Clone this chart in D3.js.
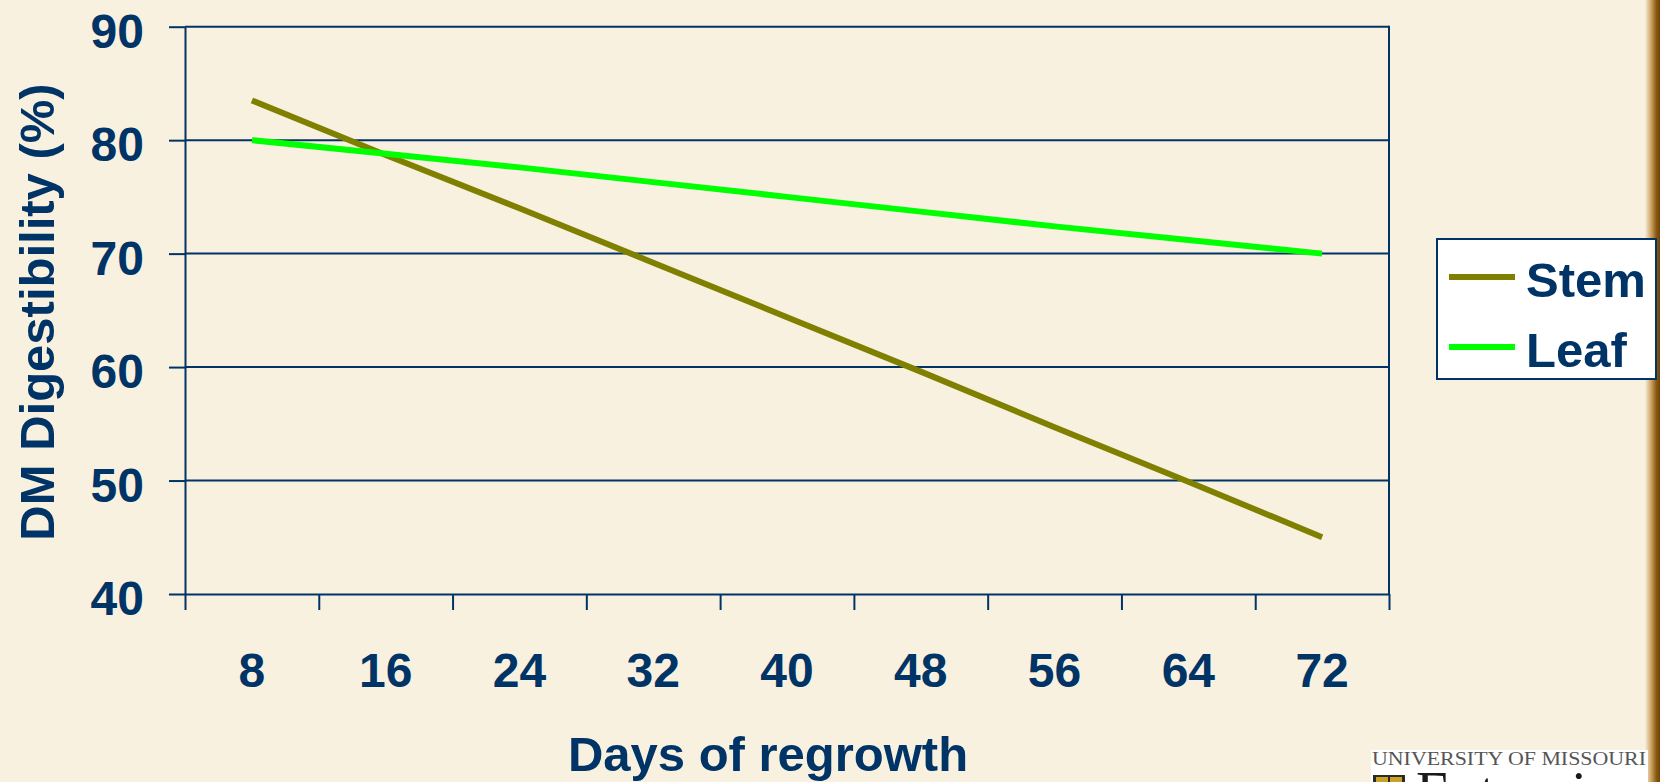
<!DOCTYPE html>
<html>
<head>
<meta charset="utf-8">
<script src="https://cdn.jsdelivr.net/npm/d3@7"></script>
<style>
  html, body { margin: 0; padding: 0; background: #F8F1DF; }
  svg { display: block; }
  text.chart-text { font-family: "Liberation Sans", Arial, sans-serif; font-weight: bold; }
  text.logo-text { font-family: "Liberation Serif", "Times New Roman", serif; font-weight: normal; }
</style>
</head>
<body>
<svg id="chart" width="1660" height="782"></svg>
<script>
// Days of regrowth (categories)
const days = ["8", "16", "24", "32", "40", "48", "56", "64", "72"];
// DM digestibility (%) by plant part
const stem = [83.5, 78.7, 74.0, 69.2, 64.4, 59.6, 54.7, 49.9, 45.0];
const leaf = [80.0, 78.8, 77.6, 76.3, 75.0, 73.7, 72.4, 71.2, 70.0];
const seriesNames = ["Stem", "Leaf"];
const yTicks = [40, 50, 60, 70, 80, 90];

const navy = "#003366";
const colors = { Stem: "#808000", Leaf: "#00FF00" };

const svg = d3.select("#chart");
const W = 1660, H = 782;
const m = { left: 185, right: 1389, top: 26.7, bottom: 594 };

// background
svg.append("rect").attr("width", W).attr("height", H).attr("fill", "#F8F1DF");

// brown edge on the right side of the slide
const defs = svg.append("defs");
const grad = defs.append("linearGradient").attr("id", "edge").attr("x1", "0").attr("x2", "1");
grad.append("stop").attr("offset", "0").attr("stop-color", "#F8F1DF");
grad.append("stop").attr("offset", "0.45").attr("stop-color", "#C79A55");
grad.append("stop").attr("offset", "0.75").attr("stop-color", "#8A5A14");
grad.append("stop").attr("offset", "1").attr("stop-color", "#6E430A");
svg.append("rect").attr("x", 1645).attr("y", 0).attr("width", 15).attr("height", H).attr("fill", "url(#edge)");

const x = d3.scaleBand().domain(days).range([m.left, m.right]).padding(0);
const xEdge = d3.scaleLinear().domain([0, days.length]).range([m.left, m.right]);
const y = d3.scaleLinear().domain([40, 90]).range([m.bottom, m.top]);

// horizontal gridlines
svg.append("g")
  .selectAll("line")
  .data(yTicks.filter(v => v > 40))
  .join("line")
  .attr("x1", m.left).attr("x2", m.right)
  .attr("y1", d => y(d)).attr("y2", d => y(d))
  .attr("stroke", navy).attr("stroke-width", 2);

// right border of the plot area
svg.append("line")
  .attr("x1", m.right).attr("x2", m.right)
  .attr("y1", m.top - 1).attr("y2", m.bottom)
  .attr("stroke", navy).attr("stroke-width", 2);

// y axis
const yAxis = svg.append("g")
  .attr("transform", `translate(${m.left},0)`)
  .call(d3.axisLeft(y).tickValues(yTicks).tickSize(16).tickSizeOuter(0).tickPadding(25));
yAxis.select(".domain").attr("stroke", navy).attr("stroke-width", 2);
yAxis.selectAll(".tick line").attr("stroke", navy).attr("stroke-width", 2);
yAxis.selectAll(".tick text")
  .attr("class", "chart-text")
  .attr("fill", navy).attr("font-size", 48).attr("dy", "0.43em");

// x axis: ticks on category boundaries
const xTicks = svg.append("g")
  .attr("transform", `translate(0,${m.bottom})`)
  .call(d3.axisBottom(xEdge).tickValues(d3.range(days.length + 1)).tickFormat("").tickSize(16).tickSizeOuter(0));
xTicks.select(".domain").attr("stroke", navy).attr("stroke-width", 2);
xTicks.selectAll(".tick line").attr("stroke", navy).attr("stroke-width", 2);

// x axis: category labels
const xLabels = svg.append("g")
  .attr("transform", `translate(0,${m.bottom})`)
  .call(d3.axisBottom(x).tickSize(0).tickPadding(59));
xLabels.select(".domain").remove();
xLabels.selectAll(".tick text")
  .attr("class", "chart-text")
  .attr("fill", navy).attr("font-size", 48);

// series lines
const line = d3.line().x((d, i) => x(days[i]) + x.bandwidth() / 2).y(d => y(d));
const series = [{ name: "Stem", values: stem }, { name: "Leaf", values: leaf }];
svg.append("g")
  .selectAll("path")
  .data(series)
  .join("path")
  .attr("d", d => line(d.values))
  .attr("fill", "none")
  .attr("stroke", d => colors[d.name])
  .attr("stroke-width", 6);

// axis titles
svg.append("text")
  .attr("class", "chart-text")
  .attr("transform", "translate(54,312) rotate(-90)")
  .attr("text-anchor", "middle")
  .attr("fill", navy).attr("font-size", 49)
  .text("DM Digestibility (%)");

svg.append("text")
  .attr("class", "chart-text")
  .attr("x", 768).attr("y", 771)
  .attr("text-anchor", "middle")
  .attr("fill", navy).attr("font-size", 49)
  .text("Days of regrowth");

// legend
const lg = svg.append("g");
lg.append("rect")
  .attr("x", 1437).attr("y", 239).attr("width", 219).attr("height", 140)
  .attr("fill", "#FFFFFF").attr("stroke", navy).attr("stroke-width", 2);
const items = lg.selectAll("g.item").data(seriesNames).join("g")
  .attr("transform", (d, i) => `translate(0,${277 + i * 70})`);
items.append("line")
  .attr("x1", 1449).attr("x2", 1515).attr("y1", 0).attr("y2", 0)
  .attr("stroke", d => colors[d]).attr("stroke-width", 6);
items.append("text")
  .attr("class", "chart-text")
  .attr("x", 1526).attr("y", 20)
  .attr("fill", navy).attr("font-size", 49)
  .text(d => d);

// footer logo
const logo = svg.append("g");
logo.append("rect").attr("x", 1371).attr("y", 750).attr("width", 277).attr("height", 32).attr("fill", "#FFFFFF");
logo.append("text")
  .attr("class", "logo-text")
  .attr("x", 1372).attr("y", 765)
  .attr("font-size", 19).attr("fill", "#555555")
  .attr("textLength", 274).attr("lengthAdjust", "spacingAndGlyphs")
  .text("UNIVERSITY OF MISSOURI");
logo.append("rect").attr("x", 1373).attr("y", 775).attr("width", 32).attr("height", 7).attr("fill", "#2A2A2A");
logo.append("rect").attr("x", 1376).attr("y", 777).attr("width", 12).attr("height", 5).attr("fill", "#C9A227");
logo.append("rect").attr("x", 1390).attr("y", 777).attr("width", 12).attr("height", 5).attr("fill", "#C9A227");
logo.append("text")
  .attr("class", "logo-text")
  .attr("x", 1416).attr("y", 811)
  .attr("font-size", 56).attr("fill", "#1A1A1A")
  .attr("textLength", 228).attr("lengthAdjust", "spacingAndGlyphs")
  .text("Extension");
</script>
</body>
</html>
